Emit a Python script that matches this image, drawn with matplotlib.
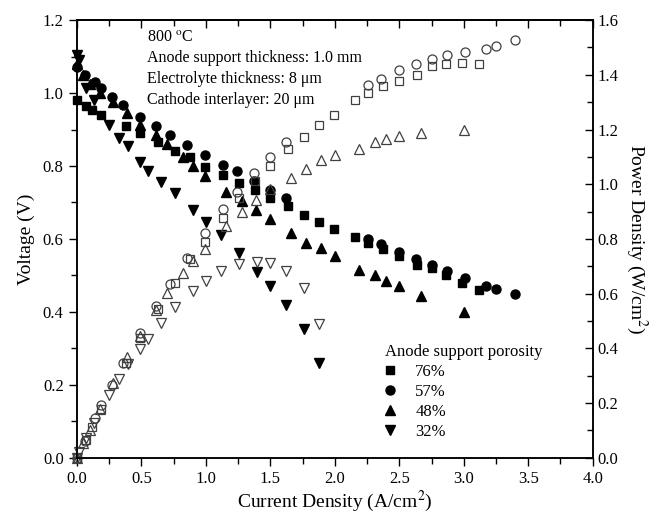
import numpy as np
import matplotlib
matplotlib.use('Agg')
import matplotlib.pyplot as plt
from matplotlib.ticker import MultipleLocator, FormatStrFormatter

plt.rcParams['font.family'] = ['Liberation Serif', 'DejaVu Serif']
plt.rcParams['mathtext.fontset'] = 'stix'

# 76% porosity
j76 = [0.0, 0.07, 0.12, 0.19, 0.38, 0.49, 0.63, 0.76, 0.88, 0.99, 1.13, 1.26, 1.38,
       1.50, 1.64, 1.76, 1.88, 1.99, 2.16, 2.26, 2.37, 2.50, 2.64, 2.75, 2.86, 2.99, 3.12]
v76 = [0.981, 0.964, 0.953, 0.94, 0.91, 0.891, 0.865, 0.842, 0.826, 0.798, 0.774, 0.753, 0.734,
       0.711, 0.689, 0.666, 0.647, 0.627, 0.605, 0.59, 0.572, 0.552, 0.529, 0.52, 0.501, 0.48, 0.46]
p76 = [0.0, 0.067, 0.114, 0.179, 0.346, 0.437, 0.545, 0.64, 0.727, 0.79, 0.875, 0.949, 1.013,
       1.067, 1.13, 1.174, 1.216, 1.252, 1.307, 1.334, 1.359, 1.377, 1.40, 1.433, 1.439, 1.444, 1.439]

# 57% porosity
j57 = [0.0, 0.06, 0.14, 0.19, 0.27, 0.36, 0.49, 0.61, 0.72, 0.85, 0.99, 1.13, 1.24,
       1.37, 1.50, 1.62, 2.26, 2.36, 2.50, 2.63, 2.75, 2.87, 3.01, 3.17, 3.25, 3.40]
v57 = [1.072, 1.049, 1.031, 1.013, 0.99, 0.967, 0.935, 0.91, 0.885, 0.858, 0.83, 0.804, 0.785,
       0.759, 0.733, 0.713, 0.60, 0.586, 0.565, 0.545, 0.529, 0.513, 0.492, 0.471, 0.463, 0.448]
p57 = [0.0, 0.063, 0.144, 0.192, 0.267, 0.348, 0.458, 0.555, 0.637, 0.729, 0.822, 0.908, 0.973,
       1.04, 1.10, 1.155, 1.363, 1.384, 1.417, 1.44, 1.456, 1.472, 1.482, 1.496, 1.506, 1.527]

# 48% porosity
j48 = [0.0, 0.05, 0.10, 0.18, 0.28, 0.39, 0.49, 0.61, 0.70, 0.82, 0.90, 0.99, 1.16,
       1.28, 1.39, 1.50, 1.66, 1.78, 1.89, 2.00, 2.19, 2.31, 2.40, 2.50, 2.67, 3.00]
v48 = [1.08, 1.05, 1.025, 1.0, 0.976, 0.945, 0.912, 0.885, 0.86, 0.825, 0.80, 0.773, 0.73,
       0.703, 0.679, 0.654, 0.616, 0.59, 0.576, 0.554, 0.515, 0.50, 0.486, 0.47, 0.445, 0.40]
p48 = [0.0, 0.053, 0.103, 0.18, 0.273, 0.369, 0.447, 0.54, 0.602, 0.677, 0.72, 0.765, 0.847,
       0.90, 0.944, 0.981, 1.023, 1.055, 1.089, 1.108, 1.128, 1.155, 1.166, 1.176, 1.188, 1.20]

# 32% porosity
j32 = [0.0, 0.02, 0.07, 0.13, 0.25, 0.33, 0.40, 0.49, 0.55, 0.65, 0.76, 0.90, 1.00,
       1.12, 1.26, 1.40, 1.50, 1.62, 1.76, 1.88]
v32 = [1.104, 1.09, 1.013, 0.981, 0.912, 0.876, 0.854, 0.812, 0.787, 0.757, 0.725, 0.679, 0.647,
       0.610, 0.562, 0.509, 0.471, 0.42, 0.352, 0.259]
p32 = [0.0, 0.022, 0.071, 0.128, 0.228, 0.289, 0.342, 0.398, 0.433, 0.492, 0.551, 0.611, 0.647,
       0.683, 0.708, 0.717, 0.711, 0.684, 0.62, 0.49]

series = [
    ('76%', 's', 6.0, j76, v76, p76),
    ('57%', 'o', 6.5, j57, v57, p57),
    ('48%', '^', 7.5, j48, v48, p48),
    ('32%', 'v', 7.5, j32, v32, p32),
]

fig = plt.figure(figsize=(6.63, 5.15), dpi=100)
ax = fig.add_axes([0.116, 0.111, 0.778, 0.850])
ax2 = ax.twinx()

for name, mk, ms, j, v, p in series:
    ax.plot(j, v, linestyle='none', marker=mk, ms=ms, color='black',
            label=name, clip_on=False)
    ax2.plot(j, p, linestyle='none', marker=mk, ms=ms, mfc='none', mec='#404040',
             mew=0.9, clip_on=False)

ax.set_xlim(0, 4.0)
ax.set_ylim(0, 1.2)
ax2.set_ylim(0, 1.6)

ax.xaxis.set_major_locator(MultipleLocator(0.5))
ax.xaxis.set_minor_locator(MultipleLocator(0.25))
ax.yaxis.set_major_locator(MultipleLocator(0.2))
ax.yaxis.set_minor_locator(MultipleLocator(0.1))
ax2.yaxis.set_major_locator(MultipleLocator(0.2))
ax2.yaxis.set_minor_locator(MultipleLocator(0.1))
for a in (ax.xaxis, ax.yaxis, ax2.yaxis):
    a.set_major_formatter(FormatStrFormatter('%.1f'))

ax.tick_params(axis='both', which='major', direction='out', length=6, width=1.0, labelsize=12)
ax.tick_params(axis='both', which='minor', direction='out', length=4, width=1.0)
ax2.tick_params(axis='y', which='major', direction='in', length=6, width=1.0, labelsize=12)
ax2.tick_params(axis='y', which='minor', direction='in', length=4, width=1.0)

# top axis: inward ticks, no labels
top = ax.secondary_xaxis('top')
top.xaxis.set_major_locator(MultipleLocator(0.5))
top.xaxis.set_minor_locator(MultipleLocator(0.25))
top.tick_params(which='major', direction='in', length=6, width=1.0, labeltop=False)
top.tick_params(which='minor', direction='in', length=4, width=1.0)

for a in (ax, ax2, top):
    for s in a.spines.values():
        s.set_linewidth(1.1)

ax.set_xlabel('Current Density (A/cm$^2$)', fontsize=14, labelpad=1)
ax.set_ylabel('Voltage (V)', fontsize=14, labelpad=6)
ax2.set_ylabel('Power Density (W/cm$^2$)', fontsize=14, rotation=270, labelpad=22)

info = ['800 $^{\\rm o}$C',
        'Anode support thickness: 1.0 mm',
        'Electrolyte thickness: 8 \u03bcm',
        'Cathode interlayer: 20 \u03bcm']
for k, line in enumerate(info):
    ax.text(0.136, 0.98 - k * 0.048, line, transform=ax.transAxes,
            fontsize=11.5, va='top', ha='left')

leg = ax.legend(loc='lower left', bbox_to_anchor=(0.585, 0.025), frameon=False,
                title='Anode support porosity', fontsize=12, title_fontsize=12,
                handletextpad=1.2, labelspacing=0.25, borderaxespad=0.0,
                alignment='left', handlelength=0.6)

fig.savefig('out.png', dpi=100)
